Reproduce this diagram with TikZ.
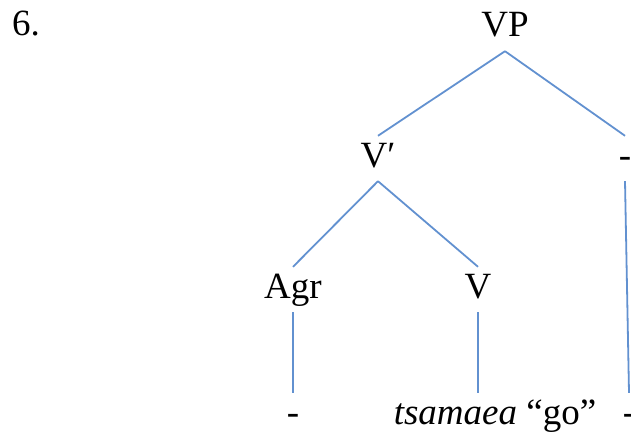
\documentclass[tikz,border=0pt]{standalone}
\usepackage{fontspec}
\setmainfont{Liberation Serif}
\usepackage{xcolor}
\definecolor{branchblue}{RGB}{98,145,208}

\begin{document}
\begin{tikzpicture}[x=1pt, y=-1pt,
    cat/.style={anchor=base, inner xsep=0pt, inner ysep=6pt,
        text height=25pt, text depth=8pt, font=\fontsize{37}{44}\selectfont},
    branch/.style={draw=branchblue, line width=1.8pt}]
    \useasboundingbox (0,0) rectangle (631,433);

    \node[cat] (num) at (26,36) {6.};
    \node[cat] (VP) at (505,37) {VP};
    \node[cat] (Vbar) at (378,167) {V′};
    \node[cat] (obj) at (625,167) {-};
    \node[cat] (Agr) at (293,298) {Agr};
    \node[cat] (V) at (478,298) {V};
    \node[cat] (agrword) at (293,424) {-};
    \node[cat] (gloss) at (495,424) {\textit{tsamaea} “go”};
    \node[cat] (objword) at (629,424) {-};

    \draw[branch] (VP.south) -- (Vbar.north);
    \draw[branch] (VP.south) -- (obj.north);
    \draw[branch] (Vbar.south) -- (Agr.north);
    \draw[branch] (Vbar.south) -- (V.north);
    \draw[branch] (Agr.south) -- (agrword.north);
    \draw[branch] (V.south) -- (V.south |- gloss.north);
    \draw[branch] (obj.south) -- (objword.north);
\end{tikzpicture}
\end{document}
